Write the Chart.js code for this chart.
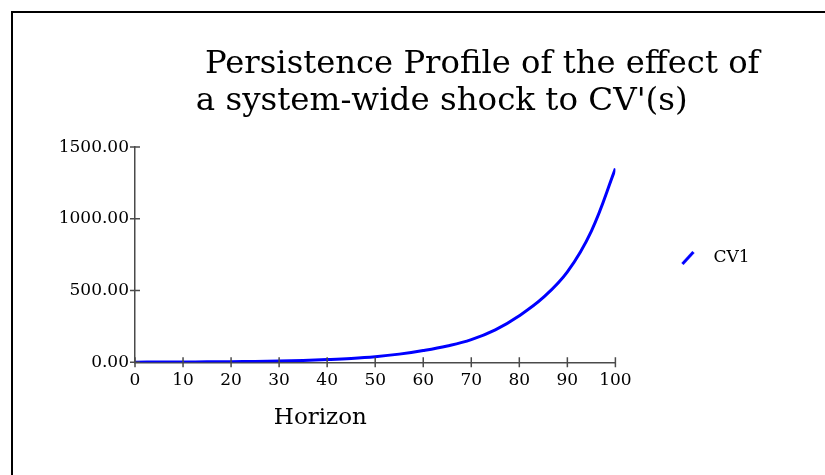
<!DOCTYPE html>
<html>
<head>
    <title>Persistence Profile</title>
    <script src="https://cdn.jsdelivr.net/npm/chart.js"></script>
    <style>
        body {
            margin: 0;
            background-color: #fff;
            overflow: hidden;
        }
        .frame {
            position: absolute;
            left: 11px;
            top: 11px;
            width: 830px;
            height: 480px;
            border: 2px solid #000;
        }
        .wrap {
            position: absolute;
            left: 0;
            top: 0;
            width: 825px;
            height: 475px;
        }
    </style>
</head>
<body>
    <div class="frame"></div>
    <div class="wrap">
        <canvas id="ppChart" width="825" height="475"></canvas>
    </div>

    <script>
        // horizons and CV1 values (every 5 steps)
        const horizon = [0, 5, 10, 15, 20, 25, 30, 35, 40, 45, 50, 55, 60, 65, 70, 75, 80, 85, 90, 95, 100];
        const cv1 = [1.0, 1.5, 2.2, 3.1, 4.4, 6.3, 9, 13, 19, 27, 39, 57, 82, 114, 158, 226, 325, 452, 630, 915, 1350];
        const xTicks = [0, 10, 20, 30, 40, 50, 60, 70, 80, 90, 100];
        const yTicks = [0, 500, 1000, 1500];

        const serif = 'DejaVu Serif';
        const axisColor = '#4a4a4a';

        // little diagonal stroke used as the legend symbol
        const legendIcon = document.createElement('canvas');
        legendIcon.width = 14;
        legendIcon.height = 14;
        const ic = legendIcon.getContext('2d');
        ic.strokeStyle = '#0000ff';
        ic.lineWidth = 3;
        ic.beginPath();
        ic.moveTo(1.5, 13);
        ic.lineTo(12.5, 1);
        ic.stroke();

        // tick marks that cross the axis lines
        const crossTicks = {
            id: 'crossTicks',
            afterDraw(chart) {
                const {ctx, chartArea, scales} = chart;
                ctx.save();
                ctx.strokeStyle = axisColor;
                ctx.lineWidth = 1.5;
                ctx.beginPath();
                scales.x.ticks.forEach(t => {
                    const px = scales.x.getPixelForValue(t.value);
                    ctx.moveTo(px, chartArea.bottom - 5);
                    ctx.lineTo(px, chartArea.bottom + 5);
                });
                scales.y.ticks.forEach(t => {
                    const py = scales.y.getPixelForValue(t.value);
                    ctx.moveTo(chartArea.left - 5, py);
                    ctx.lineTo(chartArea.left + 5, py);
                });
                ctx.stroke();
                ctx.restore();
            }
        };

        const ctx = document.getElementById('ppChart').getContext('2d');
        const ppChart = new Chart(ctx, {
            type: 'line',
            data: {
                datasets: [{
                    label: 'CV1',
                    data: horizon.map((h, i) => ({x: h, y: cv1[i]})),
                    borderColor: '#0000ff',
                    borderWidth: 3,
                    pointRadius: 0,
                    fill: false,
                    tension: 0.4
                }]
            },
            options: {
                responsive: false,
                devicePixelRatio: 1,
                animation: false,
                layout: {
                    padding: {top: 47.4, left: 0, right: 65.5, bottom: 6.4}
                },
                plugins: {
                    title: {
                        display: true,
                        text: '                    Persistence Profile of the effect of',
                        color: '#000',
                        font: {family: serif, size: 32.5, weight: 'normal', lineHeight: 1.08},
                        padding: {top: 0, bottom: 0}
                    },
                    subtitle: {
                        display: true,
                        text: '            a system-wide shock to CV\'(s)',
                        color: '#000',
                        font: {family: serif, size: 32.5, weight: 'normal', lineHeight: 1.08},
                        padding: {top: 1.8, bottom: 27.7}
                    },
                    legend: {
                        position: 'right',
                        align: 'center',
                        labels: {
                            usePointStyle: true,
                            pointStyleWidth: 34,
                            boxHeight: 11,
                            padding: 55.5,
                            color: '#000',
                            font: {family: serif, size: 17},
                            generateLabels: () => [{
                                text: 'CV1',
                                pointStyle: legendIcon,
                                fillStyle: '#0000ff',
                                strokeStyle: '#0000ff',
                                lineWidth: 0,
                                hidden: false,
                                datasetIndex: 0
                            }]
                        }
                    },
                    tooltip: {enabled: false}
                },
                scales: {
                    x: {
                        type: 'linear',
                        min: 0,
                        max: 100,
                        afterBuildTicks: s => { s.ticks = xTicks.map(v => ({value: v})); },
                        grid: {display: false, drawTicks: false},
                        border: {display: true, color: axisColor, width: 1.5},
                        ticks: {
                            color: '#000',
                            font: {family: serif, size: 17},
                            padding: 8,
                            maxRotation: 0,
                            autoSkip: false
                        },
                        title: {
                            display: true,
                            text: 'Horizon               ',
                            color: '#000',
                            font: {family: serif, size: 23},
                            padding: {top: 6, bottom: 36.3}
                        }
                    },
                    y: {
                        min: 0,
                        max: 1500,
                        afterBuildTicks: s => { s.ticks = yTicks.map(v => ({value: v})); },
                        afterFit: s => { s.width = 135; },
                        grid: {display: false, drawTicks: false},
                        border: {display: true, color: axisColor, width: 1.5},
                        ticks: {
                            color: '#000',
                            font: {family: serif, size: 17},
                            padding: 6,
                            callback: v => v.toFixed(2)
                        }
                    }
                }
            },
            plugins: [crossTicks]
        });
    </script>
</body>
</html>
